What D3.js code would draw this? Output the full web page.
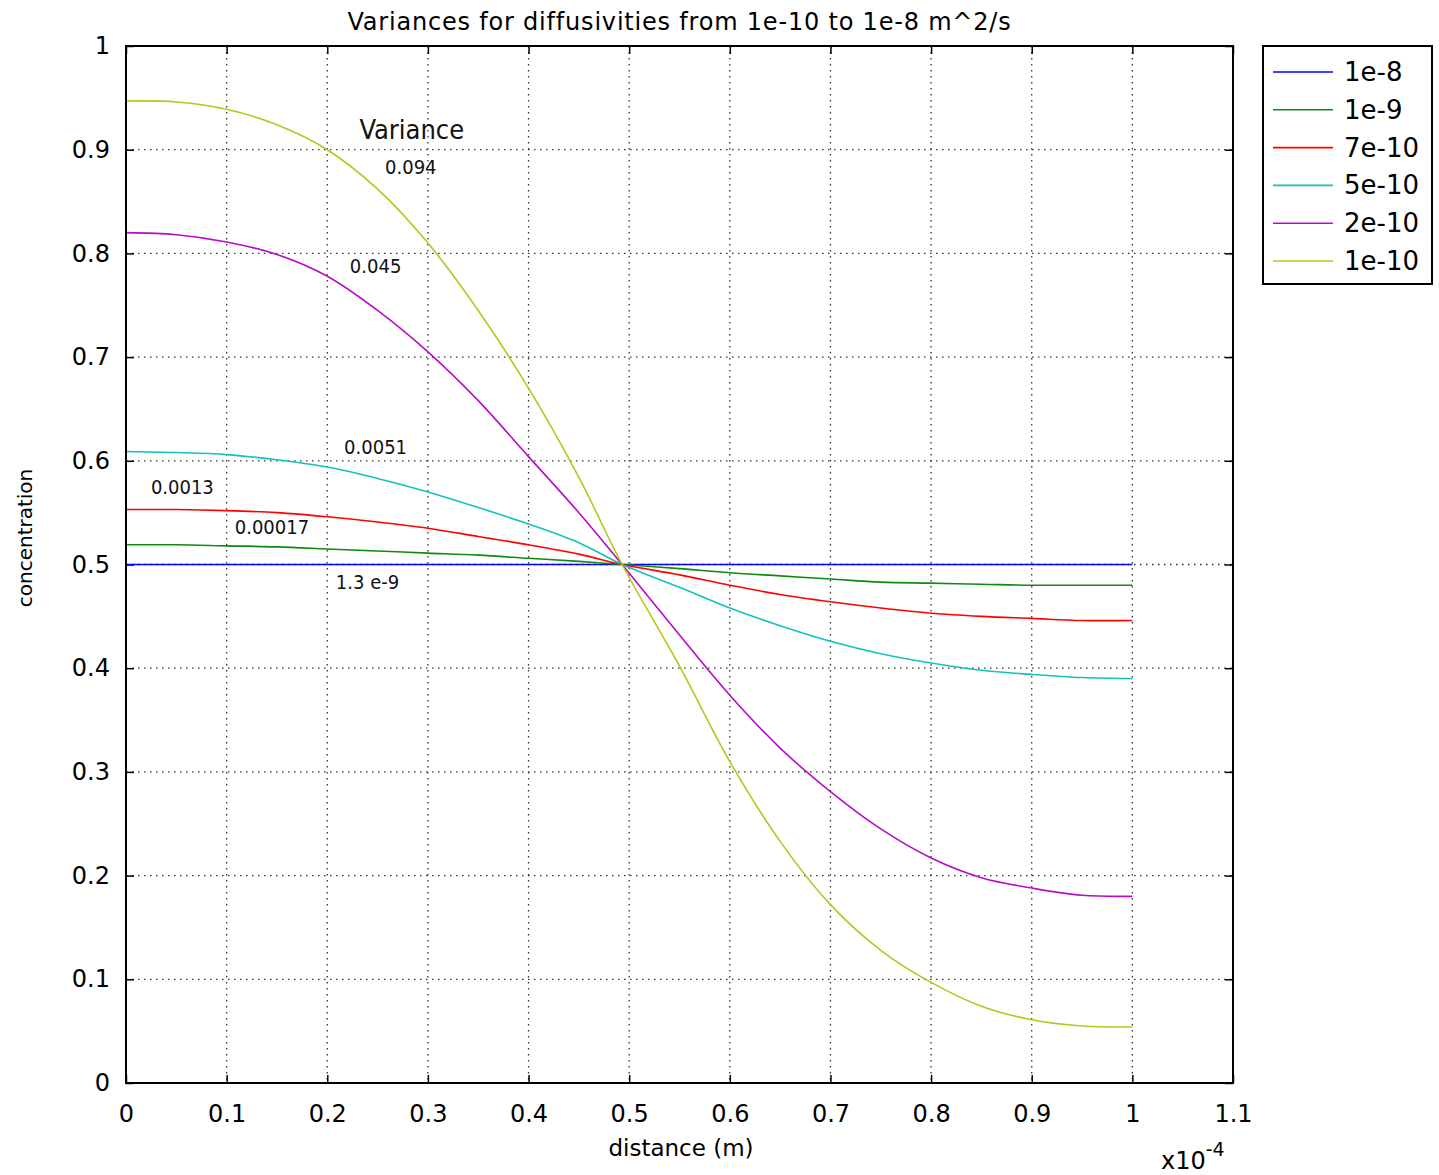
<!DOCTYPE html>
<html><head><meta charset="utf-8">
<script src="https://cdn.jsdelivr.net/npm/d3@7"></script>
<style>body{margin:0;background:#fff}svg{display:block}</style>
</head><body><svg id="c" width="1439" height="1175"></svg>
<script>
// distance in units of 1e-4 m
const distance = [0, 0.05, 0.1, 0.15, 0.2, 0.25, 0.3, 0.35, 0.4, 0.45, 0.493, 0.55, 0.6, 0.65, 0.7, 0.75, 0.8, 0.85, 0.9, 0.95, 1.0];
const seriesNames = ["1e-8", "1e-9", "7e-10", "5e-10", "2e-10", "1e-10"];
const seriesColors = ["#0000ff", "#108a10", "#ff0000", "#12c2bc", "#b80cca", "#b6c61c"];
const conc_1e8  = [0.5,0.5,0.5,0.5,0.5,0.5,0.5,0.5,0.5,0.5,0.5,0.5,0.5,0.5,0.5,0.5,0.5,0.5,0.5,0.5,0.5];
const conc_1e9  = [0.519,0.519,0.518,0.517,0.515,0.513,0.511,0.509,0.506,0.503,0.500,0.496,0.492,0.489,0.486,0.483,0.482,0.481,0.480,0.480,0.480];
const conc_7e10 = [0.553,0.553,0.552,0.550,0.546,0.541,0.535,0.527,0.519,0.510,0.500,0.490,0.480,0.471,0.464,0.458,0.453,0.450,0.448,0.446,0.446];
const conc_5e10 = [0.609,0.608,0.606,0.601,0.594,0.583,0.570,0.555,0.539,0.521,0.500,0.478,0.458,0.441,0.426,0.414,0.405,0.398,0.394,0.391,0.390];
const conc_2e10 = [0.820,0.818,0.811,0.799,0.778,0.745,0.705,0.658,0.604,0.550,0.500,0.432,0.374,0.323,0.281,0.245,0.217,0.198,0.188,0.181,0.180];
const conc_1e10 = [0.947,0.946,0.939,0.924,0.900,0.862,0.810,0.745,0.670,0.584,0.500,0.402,0.310,0.233,0.172,0.128,0.097,0.074,0.061,0.055,0.054];
const xTicks = [0, 0.1, 0.2, 0.3, 0.4, 0.5, 0.6, 0.7, 0.8, 0.9, 1, 1.1];
const yTicks = [0, 0.1, 0.2, 0.3, 0.4, 0.5, 0.6, 0.7, 0.8, 0.9, 1];
const annotationTexts = ["Variance", "0.094", "0.045", "0.0051", "0.0013", "0.00017", "1.3 e-9"];
const annotationDist = [0.284, 0.283, 0.248, 0.248, 0.056, 0.145, 0.240];
const annotationConc = [0.910, 0.877, 0.781, 0.607, 0.568, 0.529, 0.476];
const titleText = "Variances for diffusivities from 1e-10 to 1e-8 m^2/s";
const xLabel = "distance (m)";
const yLabel = "concentration";

const series = [conc_1e8, conc_1e9, conc_7e10, conc_5e10, conc_2e10, conc_1e10];

const FONT = "'DejaVu Sans', sans-serif";
const FONTC = "'DejaVu Sans Condensed', 'DejaVu Sans', sans-serif";
const L = 126, R = 1233, T = 46, B = 1083;
const svg = d3.select("#c");
const x = d3.scaleLinear().domain([0, 1.1]).range([L, R]);
const y = d3.scaleLinear().domain([0, 1]).range([B, T]);

// grid
const grid = svg.append("g").attr("stroke", "#333").attr("stroke-width", 1.3).attr("stroke-dasharray", "1.5,4.5");
grid.selectAll("line.vx").data(xTicks.filter(d => d > 0 && d < 1.1)).join("line")
  .attr("x1", d => x(d)).attr("x2", d => x(d)).attr("y1", T).attr("y2", B);
grid.selectAll("line.hy").data(yTicks.filter(d => d > 0 && d < 1)).join("line")
  .attr("y1", d => y(d)).attr("y2", d => y(d)).attr("x1", L).attr("x2", R);

// axes
const fmt = d3.format("~g");
const gx = svg.append("g").attr("transform", `translate(0,${B})`)
  .call(d3.axisBottom(x).tickValues(xTicks).tickSize(-8).tickPadding(22).tickFormat(fmt));
const gy = svg.append("g").attr("transform", `translate(${L},0)`)
  .call(d3.axisLeft(y).tickValues(yTicks).tickSize(-8).tickPadding(16).tickFormat(fmt));
const gt = svg.append("g").attr("transform", `translate(0,${T})`)
  .call(d3.axisTop(x).tickValues(xTicks).tickSize(-8).tickFormat(""));
const gr = svg.append("g").attr("transform", `translate(${R},0)`)
  .call(d3.axisRight(y).tickValues(yTicks).tickSize(-8).tickFormat(""));
[gx, gy, gt, gr].forEach(g => {
  g.select(".domain").remove();
  g.selectAll(".tick line").attr("stroke", "#000").attr("stroke-width", 1.5);
  g.selectAll("text").attr("font-family", FONT).attr("font-size", 24).attr("fill", "#000");
});

// lines
const line = d3.line().x((d, i) => x(distance[i])).y(d => y(d)).curve(d3.curveCatmullRom.alpha(0.5));
svg.append("g").selectAll("path").data(series).join("path")
  .attr("d", line).attr("fill", "none")
  .attr("stroke", (d, i) => seriesColors[i]).attr("stroke-width", 1.6);

// frame
svg.append("rect").attr("x", L).attr("y", T).attr("width", R - L).attr("height", B - T)
  .attr("fill", "none").attr("stroke", "#000").attr("stroke-width", 2);

// annotations
svg.append("g").selectAll("text").data(annotationTexts).join("text")
  .attr("x", (d, i) => x(annotationDist[i])).attr("y", (d, i) => y(annotationConc[i]))
  .attr("text-anchor", "middle").attr("font-family", FONTC)
  .attr("font-size", (d, i) => i === 0 ? 27 : 20).attr("fill", "#111").text(d => d);

// title & labels
svg.append("text").attr("x", (L + R) / 2).attr("y", 30).attr("text-anchor", "middle")
  .attr("font-family", FONT).attr("font-size", 24).attr("letter-spacing", 0.8).text(titleText);
svg.append("text").attr("x", 681).attr("y", 1156).attr("text-anchor", "middle")
  .attr("font-family", FONT).attr("font-size", 23).text(xLabel);
svg.append("text").attr("transform", "translate(32,538) rotate(-90)").attr("text-anchor", "middle")
  .attr("font-family", FONT).attr("font-size", 20).text(yLabel);
const ex = svg.append("text").attr("x", 1161).attr("y", 1169).attr("font-family", FONT).attr("font-size", 24);
ex.append("tspan").text("x10");
ex.append("tspan").attr("dy", -13).attr("font-size", 19).text("-4");

// legend
const lg = svg.append("g");
lg.append("rect").attr("x", 1263).attr("y", 46).attr("width", 169).attr("height", 238)
  .attr("fill", "#fff").attr("stroke", "#000").attr("stroke-width", 2);
const rows = lg.selectAll("g").data(seriesNames).join("g")
  .attr("transform", (d, i) => `translate(0,${72 + i * 37.8})`);
rows.append("line").attr("x1", 1273).attr("x2", 1333)
  .attr("stroke", (d, i) => seriesColors[i]).attr("stroke-width", 1.6);
rows.append("text").attr("x", 1344).attr("y", 9).attr("font-family", FONT).attr("font-size", 26).text(d => d);
</script></body></html>
